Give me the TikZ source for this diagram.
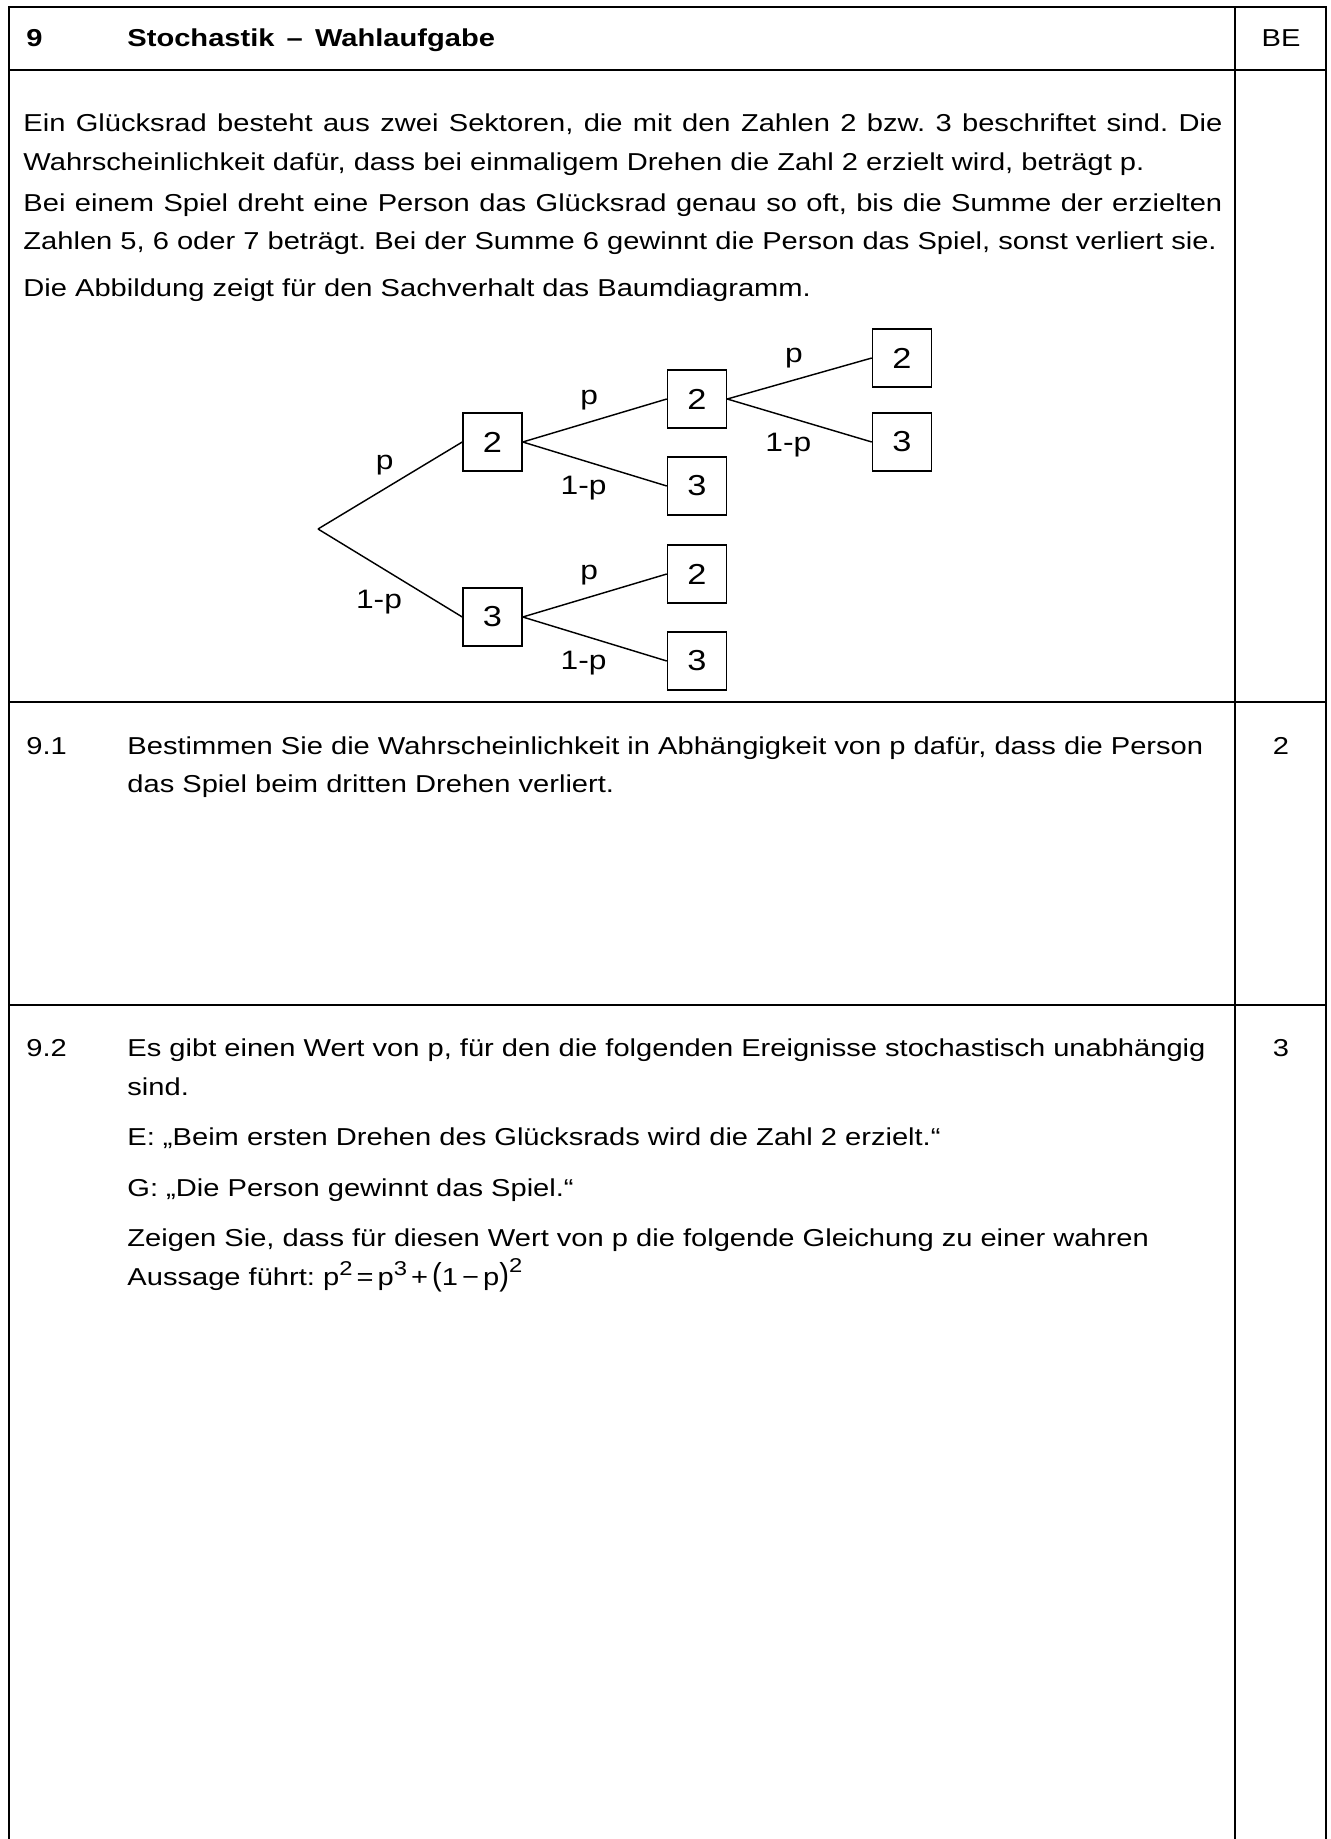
\documentclass[tikz,border=0pt]{standalone}
\usepackage{fontspec}
\setmainfont{Liberation Sans}[FakeStretch=1.19]
\usetikzlibrary{positioning}
\frenchspacing

\begin{document}
\begin{tikzpicture}[x=0.45pt, y=-0.45pt, % pixel grid, origin top left
          rule/.style={line width=1.2pt},
          txt/.style={anchor=base west, inner sep=0pt, font=\fontsize{11}{13}\selectfont},
          head/.style={txt, font=\fontsize{11}{13}\selectfont\bfseries},
          bepoints/.style={anchor=base, inner sep=0pt, font=\fontsize{11}{13}\selectfont},
          box/.style={draw, line width=0.7pt, minimum width=26.5pt, minimum height=26pt, inner sep=0pt, font=\fontsize{13}{15}\selectfont},
          branch/.style={line width=0.65pt},
          prob/.style={inner sep=0pt, font=\fontsize{12}{14}\selectfont},
          probup/.style={prob, midway, xshift=-2.5pt, yshift=9pt},
          probdown/.style={prob, midway, xshift=-5pt, yshift=-11pt}
        ]
        \useasboundingbox (0,0) rectangle (1330,1839);

        % Tabelle
        \draw[rule] (9,1839) -- (9,7) -- (1326,7) -- (1326,1839);
        \draw[rule] (1235,7) -- (1235,1839);
        \foreach \yy in {70,702,1005}
          \draw[rule] (9,\yy) -- (1326,\yy);

        % Kopfzeile
        \node[head] (num) at (26,47) {9};
        \node[head] (title) at (127,47) {Stochastik \,–\, Wahlaufgabe};
        \node[bepoints] (be) at (1281,47) {BE};

        % Einleitung (Blocksatz in Zeile 1 und 3)
        \node[txt] (intro1) at (23,132) {\makebox[539.5pt][s]{Ein Glücksrad besteht aus zwei Sektoren, die mit den Zahlen 2 bzw. 3 beschriftet sind. Die}};
        \node[txt] (intro2) at (23,171) {Wahrscheinlichkeit dafür, dass bei einmaligem Drehen die Zahl 2 erzielt wird, beträgt p.};
        \node[txt] (intro3) at (23,212) {\makebox[539.5pt][s]{Bei einem Spiel dreht eine Person das Glücksrad genau so oft, bis die Summe der erzielten}};
        \node[txt] (intro4) at (23,250) {Zahlen 5, 6 oder 7 beträgt. Bei der Summe 6 gewinnt die Person das Spiel, sonst verliert sie.};
        \node[txt] (intro5) at (23,297) {Die Abbildung zeigt für den Sachverhalt das Baumdiagramm.};

        % Baumdiagramm
        \coordinate (root) at (318,529);
        \node[box] (n2) at (492.5,442) {2};
        \node[box] (n3) at (492.5,617) {3};
        \node[box] (n22) at (697,399) {2};
        \node[box] (n23) at (697,486) {3};
        \node[box] (n32) at (697,574) {2};
        \node[box] (n33) at (697,661) {3};
        \node[box] (n222) at (902,358) {2};
        \node[box] (n223) at (902,442) {3};

        \draw[branch] (root) -- node[probup] (p1) {p} (n2.west);
        \draw[branch] (root) -- node[probdown, yshift=-2pt] (q1) {1-p} (n3.west);
        \draw[branch] (n2.east) -- node[probup] (p2) {p} (n22.west);
        \draw[branch] (n2.east) -- node[probdown] (q2) {1-p} (n23.west);
        \draw[branch] (n3.east) -- node[probup] (p3) {p} (n32.west);
        \draw[branch] (n3.east) -- node[probdown] (q3) {1-p} (n33.west);
        \draw[branch] (n22.east) -- node[probup] (p4) {p} (n222.west);
        \draw[branch] (n22.east) -- node[probdown] (q4) {1-p} (n223.west);

        % Aufgabe 9.1
        \node[txt] (a1) at (26,754) {9.1};
        \node[txt] (a1l1) at (127,754) {Bestimmen Sie die Wahrscheinlichkeit in Abhängigkeit von p dafür, dass die Person};
        \node[txt] (a1l2) at (127,792) {das Spiel beim dritten Drehen verliert.};
        \node[bepoints] (be1) at (1281,754) {2};

        % Aufgabe 9.2
        \node[txt] (a2) at (26,1056) {9.2};
        \node[txt] (a2l1) at (127,1056) {Es gibt einen Wert von p, für den die folgenden Ereignisse stochastisch unabhängig};
        \node[txt] (a2l2) at (127,1095) {sind.};
        \node[txt] (evE) at (127,1145) {E: „Beim ersten Drehen des Glücksrads wird die Zahl 2 erzielt.“};
        \node[txt] (evG) at (127,1196) {G: „Die Person gewinnt das Spiel.“};
        \node[txt] (a2l3) at (127,1246) {Zeigen Sie, dass für diesen Wert von p die folgende Gleichung zu einer wahren};
        \node[txt] (a2l4) at (127,1285) {Aussage führt:\ p\raisebox{0.75ex}{\small 2}\,=\,p\raisebox{0.75ex}{\small 3}\,+\,\scalebox{1}[1.3]{(}1\,−\,p\scalebox{1}[1.3]{)}\raisebox{1ex}{\small 2}};
        \node[bepoints] (be2) at (1281,1056) {3};

        \end{tikzpicture}
\end{document}
